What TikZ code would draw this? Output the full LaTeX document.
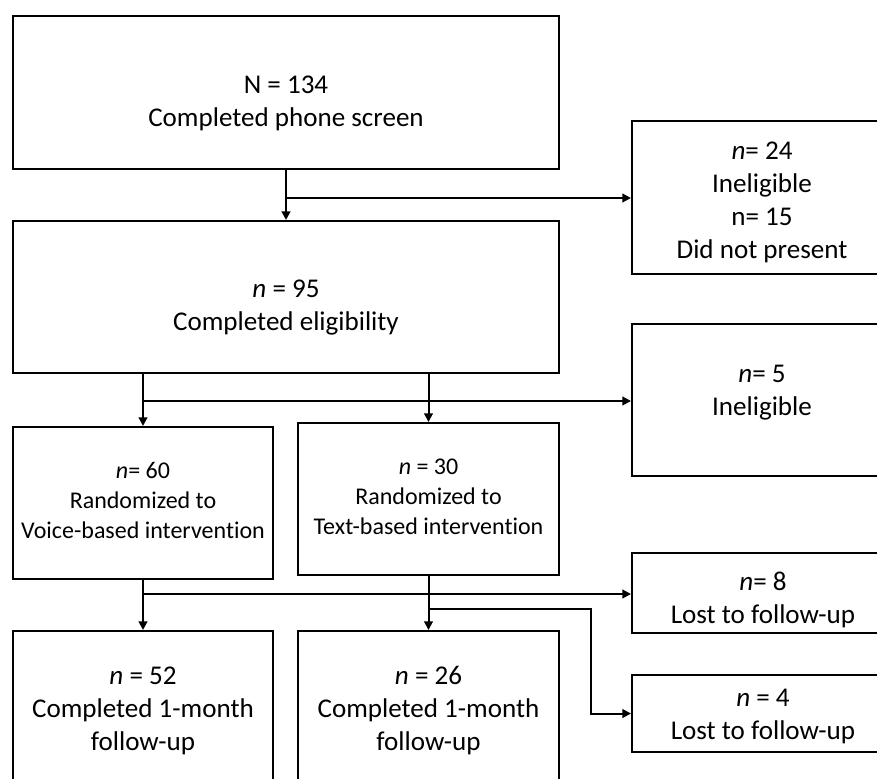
\documentclass[tikz,border=0pt]{standalone}
\usepackage{fontspec}
\setmainfont{Carlito}[RawFeature={-liga;-clig;-dlig}]
\usetikzlibrary{arrows.meta,calc}
\begin{document}
\begin{tikzpicture}[x=0.75pt,y=-0.75pt,
  box/.style={draw, line width=1.5pt, inner sep=0pt},
  wh/.style 2 args={minimum width=#1*0.75pt, minimum height=#2*0.75pt},
  txt/.style={align=center, inner sep=0pt, font=\fontsize{20.3}{24.75}\selectfont},
  stxt/.style={align=center, inner sep=0pt, font=\fontsize{18}{22.5}\selectfont},
  arr/.style={line width=1.5pt, -{Triangle[length=6.5pt,width=6.5pt]}}]
\useasboundingbox (0,0) rectangle (877,778);
\clip (0,0) rectangle (877,778);
% boxes
\node[box, wh={546}{153}] (top) at (286,92.5) {};
\node[txt] (toptxt) at (286,103.5) {N = 134\\Completed phone screen};
\node[box, wh={261}{153}] (r1) at (762.5,197.5) {};
\node[txt] (r1txt) at (762,202) {\textit{n}= 24\\Ineligible\\n= 15\\Did not present};
\node[box, wh={546}{152}] (box2) at (286,297) {};
\node[txt] (box2txt) at (286,308) {\textit{n} = 95\\Completed eligibility};
\node[box, wh={261}{152}] (r2) at (762.5,400) {};
\node[txt] (r2txt) at (762,392.5) {\textit{n}= 5\\Ineligible};
\node[box, wh={260}{152}] (voice) at (143,503) {};
\node[stxt] (voicetxt) at (143,500.5) {\textit{n}= 60\\Randomized to\\Voice-based intervention};
\node[box, wh={261}{152}] (textb) at (428.5,499) {};
\node[stxt] (textbtxt) at (428.5,496.5) {\textit{n} = 30\\Randomized to\\Text-based intervention};
\node[box, wh={261}{80}] (r3) at (762.5,593) {};
\node[txt] (r3txt) at (763,599.5) {\textit{n}= 8\\Lost to follow-up};
\node[box, wh={261}{77}] (r4) at (762.5,713.5) {};
\node[txt] (r4txt) at (763,716.5) {\textit{n} = 4\\Lost to follow-up};
\node[box, wh={260}{220}] (b1) at (143,741) {};
\node[txt] (b1txt) at (143,711) {\textit{n} = 52\\Completed 1-month\\follow-up};
\node[box, wh={261}{220}] (b2) at (428.5,741) {};
\node[txt] (b2txt) at (428.5,711) {\textit{n} = 26\\Completed 1-month\\follow-up};
% connectors
\draw[arr] (top.south) -- (box2.north);
\coordinate (c1) at (286,198);
\draw[arr] (c1) -- (c1 -| r1.west);
\draw[arr] (box2.south -| voice.north) -- (voice.north);
\coordinate (c2) at (143,401);
\draw[arr] (c2) -- (c2 -| r2.west);
\draw[arr] (box2.south -| textb.north) -- (textb.north);
\draw[arr] (voice.south) -- (b1.north);
\coordinate (c3) at (143,594);
\draw[arr] (c3) -- (c3 -| r3.west);
\draw[arr] (textb.south) -- (b2.north);
\coordinate (c4) at (428.5,609);
\coordinate (c5) at (591,609);
\draw[arr] (c4) -- (c5) |- (r4.west);
\end{tikzpicture}
\end{document}
